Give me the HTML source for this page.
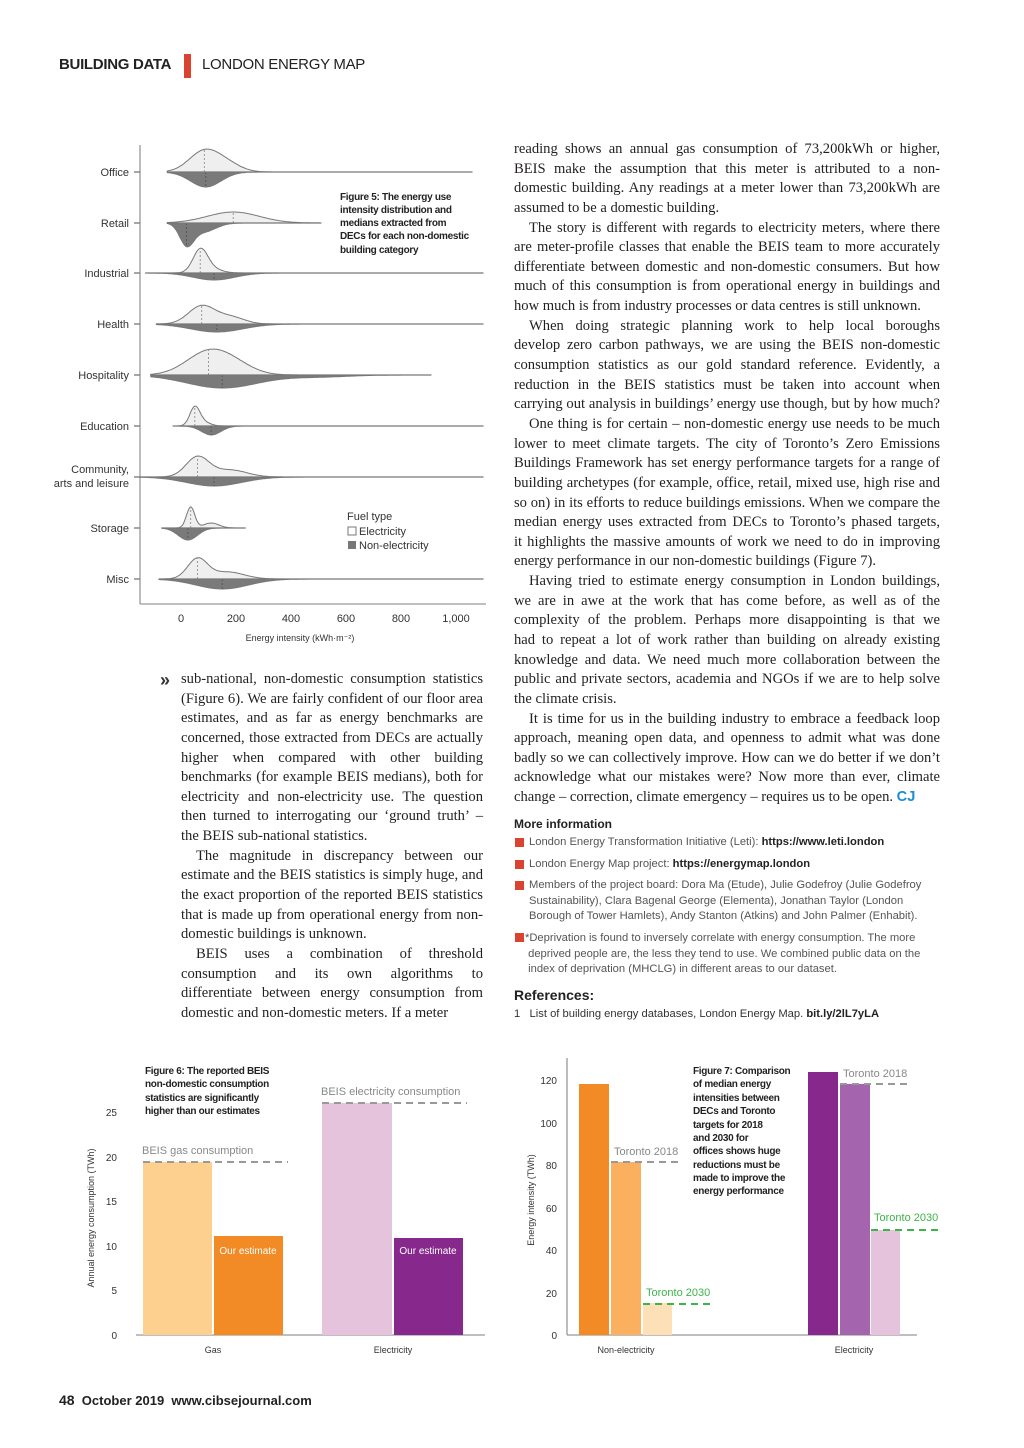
<!DOCTYPE html>
<html><head><meta charset="utf-8"><style>
body{margin:0;background:#fff;}
#p{position:relative;width:1024px;height:1448px;overflow:hidden;font-family:"Liberation Sans",sans-serif;color:#222}
.a{position:absolute;white-space:nowrap}
.ser{font-family:"Liberation Serif",serif;font-size:14.6px;color:#231f20}
.j{position:absolute;text-align:justify;text-align-last:justify;white-space:nowrap;overflow:visible}
.e{text-align-last:left}
.mi{font-size:11.2px;color:#555;line-height:15.5px}
.sq{position:absolute;width:9px;height:9px;background:#d9432f}
</style></head><body><div id="p">
<div class="a" style="left:59px;top:56px;font-size:15px;font-weight:bold;letter-spacing:-0.3px">BUILDING DATA</div>
<div class="a" style="left:184px;top:54px;width:7px;height:24px;background:#d9432f"></div>
<div class="a" style="left:202px;top:56px;font-size:15px;letter-spacing:-0.3px">LONDON ENERGY MAP</div>

<svg class="a" style="left:0;top:0" width="1024" height="1448" id="sv">
<g font-family="Liberation Sans" font-size="11" fill="#333" text-anchor="end">
<line x1="140" y1="145" x2="140" y2="604" stroke="#999" stroke-width="1.3"/>
<line x1="140" y1="604" x2="486" y2="604" stroke="#999" stroke-width="1.3"/>
<text x="129" y="176">Office</text><text x="129" y="227">Retail</text><text x="129" y="277">Industrial</text>
<text x="129" y="328">Health</text><text x="129" y="379">Hospitality</text><text x="129" y="430">Education</text>
<text x="129" y="473">Community,</text><text x="129" y="487">arts and leisure</text>
<text x="129" y="532">Storage</text><text x="129" y="583">Misc</text>
</g>
<g id="vio"></g>
<g font-family="Liberation Sans" font-size="11" fill="#333" text-anchor="middle">
<text x="181" y="622">0</text><text x="236" y="622">200</text><text x="291" y="622">400</text><text x="346" y="622">600</text><text x="401" y="622">800</text><text x="456" y="622">1,000</text>
<text x="300" y="641" font-size="9">Energy intensity (kWh·m⁻²)</text>
</g>
<g font-family="Liberation Sans" font-size="10" font-weight="bold" fill="#222" letter-spacing="-0.3">
<text x="340" y="200">Figure 5: The energy use</text><text x="340" y="213">intensity distribution and</text>
<text x="340" y="226">medians extracted from</text><text x="340" y="239">DECs for each non-domestic</text><text x="340" y="253">building category</text>
</g>
<g font-family="Liberation Sans" font-size="11" fill="#333">
<text x="347" y="520">Fuel type</text>
<rect x="348" y="527" width="8" height="8" fill="#fff" stroke="#777"/><text x="359" y="535">Electricity</text>
<rect x="348" y="541" width="8" height="8" fill="#777"/><text x="359" y="549">Non-electricity</text>
</g>

<!-- Fig 6 -->
<g font-family="Liberation Sans">
<line x1="136" y1="1335" x2="485" y2="1335" stroke="#999" stroke-width="1.3"/>
<rect x="143" y="1162" width="69" height="173" fill="#fdd08f"/>
<rect x="214" y="1236" width="69" height="99" fill="#f28a25"/>
<rect x="322" y="1103" width="70" height="232" fill="#e6c3dd"/>
<rect x="394" y="1238" width="69" height="97" fill="#87298c"/>
<line x1="143" y1="1162" x2="288" y2="1162" stroke="#999" stroke-width="2" stroke-dasharray="7,5"/>
<line x1="322" y1="1103" x2="467" y2="1103" stroke="#999" stroke-width="2" stroke-dasharray="7,5"/>
<text x="142" y="1154" font-size="11" fill="#888">BEIS gas consumption</text>
<text x="321" y="1095" font-size="11" fill="#888">BEIS electricity consumption</text>
<text x="248" y="1254" font-size="10" fill="#fff" text-anchor="middle">Our estimate</text>
<text x="428" y="1254" font-size="10" fill="#fff" text-anchor="middle">Our estimate</text>
<g font-size="10" fill="#333" text-anchor="end">
<text x="117" y="1116">25</text><text x="117" y="1161">20</text><text x="117" y="1205">15</text><text x="117" y="1250">10</text><text x="117" y="1294">5</text><text x="117" y="1339">0</text></g>
<text transform="translate(94,1218) rotate(-90)" font-size="9" fill="#333" text-anchor="middle">Annual energy consumption (TWh)</text>
<text x="213" y="1353" font-size="9" fill="#333" text-anchor="middle">Gas</text>
<text x="393" y="1353" font-size="9" fill="#333" text-anchor="middle">Electricity</text>
<g font-size="10" font-weight="bold" fill="#222" letter-spacing="-0.3">
<text x="145" y="1074">Figure 6: The reported BEIS</text><text x="145" y="1087">non-domestic consumption</text>
<text x="145" y="1101">statistics are significantly</text><text x="145" y="1114">higher than our estimates</text></g>
</g>

<!-- Fig 7 -->
<g font-family="Liberation Sans">
<line x1="567" y1="1058" x2="567" y2="1335" stroke="#999" stroke-width="1.3"/>
<line x1="567" y1="1335" x2="917" y2="1335" stroke="#999" stroke-width="1.3"/>
<rect x="579" y="1084" width="30" height="251" fill="#f28a25"/>
<rect x="611" y="1162" width="30" height="173" fill="#fbb060"/>
<rect x="643" y="1303" width="29" height="32" fill="#fde0b8"/>
<rect x="808" y="1072" width="30" height="263" fill="#87298c"/>
<rect x="840" y="1084" width="30" height="251" fill="#a564ae"/>
<rect x="871" y="1230" width="29" height="105" fill="#e6c3dd"/>
<line x1="611" y1="1162" x2="678" y2="1162" stroke="#999" stroke-width="2" stroke-dasharray="7,5"/>
<line x1="643" y1="1304" x2="711" y2="1304" stroke="#3db34a" stroke-width="2" stroke-dasharray="7,5"/>
<line x1="840" y1="1084" x2="908" y2="1084" stroke="#999" stroke-width="2" stroke-dasharray="7,5"/>
<line x1="871" y1="1230" x2="940" y2="1230" stroke="#3db34a" stroke-width="2" stroke-dasharray="7,5"/>
<text x="614" y="1155" font-size="11" fill="#888">Toronto 2018</text>
<text x="646" y="1296" font-size="11" fill="#3db34a">Toronto 2030</text>
<text x="843" y="1077" font-size="11" fill="#888">Toronto 2018</text>
<text x="874" y="1221" font-size="11" fill="#3db34a">Toronto 2030</text>
<g font-size="10" fill="#333" text-anchor="end">
<text x="557" y="1084">120</text><text x="557" y="1127">100</text><text x="557" y="1169">80</text><text x="557" y="1212">60</text><text x="557" y="1254">40</text><text x="557" y="1297">20</text><text x="557" y="1339">0</text></g>
<text transform="translate(534,1200) rotate(-90)" font-size="9" fill="#333" text-anchor="middle">Energy intensity (TWh)</text>
<text x="626" y="1353" font-size="9" fill="#333" text-anchor="middle">Non-electricity</text>
<text x="854" y="1353" font-size="9" fill="#333" text-anchor="middle">Electricity</text>
<g font-size="10" font-weight="bold" fill="#222" letter-spacing="-0.3">
<text x="693" y="1074">Figure 7: Comparison</text><text x="693" y="1087">of median energy</text><text x="693" y="1101">intensities between</text>
<text x="693" y="1114">DECs and Toronto</text><text x="693" y="1128">targets for 2018</text><text x="693" y="1141">and 2030 for</text>
<text x="693" y="1154">offices shows huge</text><text x="693" y="1168">reductions must be</text><text x="693" y="1181">made to improve the</text><text x="693" y="1194">energy performance</text></g>
</g>
</svg>

<div id="rc" class="ser"></div>
<div id="lc" class="ser"></div>
<div class="a" style="left:160px;top:670px;font-size:18px;font-weight:bold;color:#333">»</div>

<div class="a" style="left:514px;top:817px;font-size:12px;font-weight:bold">More information</div>
<div class="sq" style="left:515px;top:838px"></div><div class="a mi" style="left:529px;top:835px">London Energy Transformation Initiative (Leti): <b style="color:#222">https://www.leti.london</b></div>
<div class="sq" style="left:515px;top:860px"></div><div class="a mi" style="left:529px;top:857px">London Energy Map project: <b style="color:#222">https://energymap.london</b></div>
<div class="sq" style="left:515px;top:881px"></div><div class="a mi" style="left:529px;top:878px">Members of the project board: Dora Ma (Etude), Julie Godefroy (Julie Godefroy<br>Sustainability), Clara Bagenal George (Elementa), Jonathan Taylor (London<br>Borough of Tower Hamlets), Andy Stanton (Atkins) and John Palmer (Enhabit).</div>
<div class="sq" style="left:515px;top:933px"></div><div class="a mi" style="left:525px;top:931px">*Deprivation is found to inversely correlate with energy consumption. The more<br>&nbsp;deprived people are, the less they tend to use. We combined public data on the<br>&nbsp;index of deprivation (MHCLG) in different areas to our dataset.</div>
<div class="a" style="left:514px;top:987px;font-size:14px;font-weight:bold">References:</div>
<div class="a mi" style="left:514px;top:1007px;color:#333">1&nbsp;&nbsp;&nbsp;List of building energy databases, London Energy Map. <b style="color:#222">bit.ly/2lL7yLA</b></div>

<div class="a" style="left:59px;top:1392px;font-size:13px;font-weight:bold"><span style="font-size:14px">48</span>&nbsp; October 2019&nbsp; www.cibsejournal.com</div>
</div>
<script>
var R=[
"reading shows an annual gas consumption of 73,200kWh or higher,",
"BEIS make the assumption that this meter is attributed to a non-",
"domestic building. Any readings at a meter lower than 73,200kWh are",
"*assumed to be a domestic building.",
"  The story is different with regards to electricity meters, where there",
"are meter-profile classes that enable the BEIS team to more accurately",
"differentiate between domestic and non-domestic consumers. But how",
"much of this consumption is from operational energy in buildings and",
"*how much is from industry processes or data centres is still unknown.",
"  When doing strategic planning work to help local boroughs",
"develop zero carbon pathways, we are using the BEIS non-domestic",
"consumption statistics as our gold standard reference. Evidently, a",
"reduction in the BEIS statistics must be taken into account when",
"carrying out analysis in buildings’ energy use though, but by how much?",
"  One thing is for certain – non-domestic energy use needs to be much",
"lower to meet climate targets. The city of Toronto’s Zero Emissions",
"Buildings Framework has set energy performance targets for a range of",
"building archetypes (for example, office, retail, mixed use, high rise and",
"so on) in its efforts to reduce buildings emissions. When we compare the",
"median energy uses extracted from DECs to Toronto’s phased targets,",
"it highlights the massive amounts of work we need to do in improving",
"*energy performance in our non-domestic buildings (Figure 7).",
"  Having tried to estimate energy consumption in London buildings,",
"we are in awe at the work that has come before, as well as of the",
"complexity of the problem. Perhaps more disappointing is that we",
"had to repeat a lot of work rather than building on already existing",
"knowledge and data. We need much more collaboration between the",
"public and private sectors, academia and NGOs if we are to help solve",
"*the climate crisis.",
"  It is time for us in the building industry to embrace a feedback loop",
"approach, meaning open data, and openness to admit what was done",
"badly so we can collectively improve. How can we do better if we don’t",
"acknowledge what our mistakes were? Now more than ever, climate",
"*change – correction, climate emergency – requires us to be open. <b style='color:#1a8fd6;font-family:Liberation Sans'>CJ</b>"];
var L=[
"sub-national, non-domestic consumption statistics",
"(Figure 6). We are fairly confident of our floor area",
"estimates, and as far as energy benchmarks are",
"concerned, those extracted from DECs are actually",
"higher when compared with other building",
"benchmarks (for example BEIS medians), both for",
"electricity and non-electricity use. The question",
"then turned to interrogating our ‘ground truth’ –",
"*the BEIS sub-national statistics.",
"  The magnitude in discrepancy between our",
"estimate and the BEIS statistics is simply huge, and",
"the exact proportion of the reported BEIS statistics",
"that is made up from operational energy from non-",
"*domestic buildings is unknown.",
"  BEIS uses a combination of threshold",
"consumption and its own algorithms to",
"differentiate between energy consumption from",
"*domestic and non-domestic meters. If a meter"];
function put(arr,x,y0,w,id){var h="";arr.forEach(function(s,i){var c="j";if(s[0]=="*"){c+=" e";s=s.slice(1);}
var ind=0;if(s.indexOf("  ")==0){ind=15;s=s.slice(2);}
h+='<div class="'+c+'" style="left:'+(x+ind)+'px;top:'+(y0+i*19.64-9)+'px;width:'+(w-ind)+'px">'+s+'</div>';});
document.getElementById(id).innerHTML=h;}
put(R,514,150,426,"rc");put(L,181,680,302,"lc");
var rows=[[172,[[85,21,55],[170,7,50]],[[90,15,55]],-50,1060],
[223,[[190,11,95]],[[20,20,25],[80,9,45]],-50,510],
[273,[[70,21,26],[100,5,40]],[[120,7,75]],-130,1100],
[324,[[75,18,48],[180,7,50]],[[130,8,95]],-90,1100],
[375,[[100,23,80],[200,7,70]],[[150,13,130],[500,2,110]],-110,910],
[426,[[50,18,18],[80,4,25]],[[110,9,35]],-30,1100],
[477,[[60,20,42],[180,7,60]],[[120,9,100]],-150,1100],
[528,[[35,21,15],[110,5,28]],[[25,12,35]],-70,235],
[579,[[60,20,36],[170,7,60]],[[150,10,95]],-80,1100]];
function X(v){return 181+v*0.275;}
function dens(c,v){var s=0;c.forEach(function(g){s+=g[1]*Math.exp(-Math.pow((v-g[0])/g[2],2)/2);});return s;}
var out="";
rows.forEach(function(r){var y=r[0],a=r[3],b=r[4];
["u","l"].forEach(function(k){var c=k=="u"?r[1]:r[2],sg=k=="u"?-1:1;var d="M"+X(a)+","+y;
for(var v=a;v<=b;v+=4){d+=" L"+X(v).toFixed(1)+","+(y+sg*dens(c,v)).toFixed(1);}d+=" L"+X(b)+","+y+"Z";
out+='<path d="'+d+'" fill="'+(k=="u"?"#efefef":"#7a7a7a")+'" stroke="#777" stroke-width="1"/>';
var m=c[0][0];out+='<line x1="'+X(m)+'" y1="'+y+'" x2="'+X(m)+'" y2="'+(y+sg*dens(c,m))+'" stroke="'+(k=="u"?"#999":"#555")+'" stroke-dasharray="2,2"/>';});
out+='<line x1="'+X(a)+'" y1="'+y+'" x2="'+X(b)+'" y2="'+y+'" stroke="#777" stroke-width="1.3"/>';
out+='<line x1="134" y1="'+y+'" x2="140" y2="'+y+'" stroke="#777" stroke-width="1.3"/>';});
document.getElementById("vio").innerHTML=out;
</script>
</body></html>
